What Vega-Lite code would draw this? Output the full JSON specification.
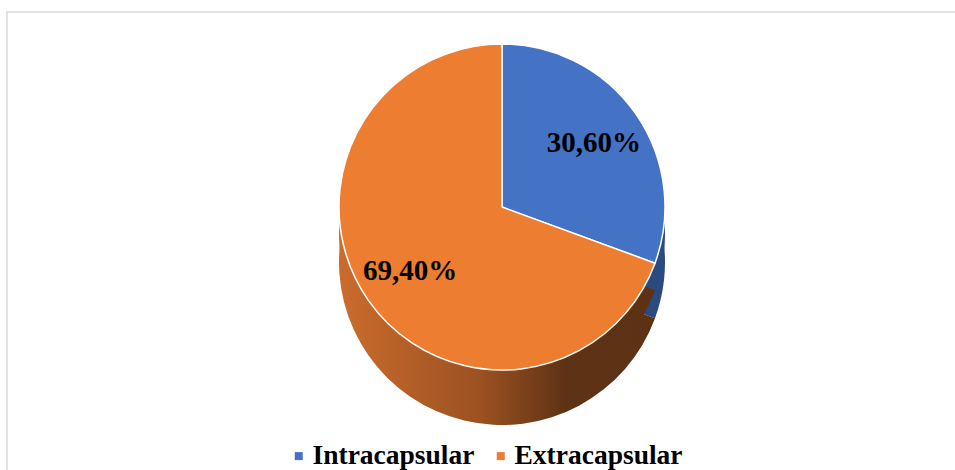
{
  "$schema": "https://vega.github.io/schema/vega-lite/v6.json",
  "autosize": {"type": "none"},
  "width": 990,
  "height": 460,
  "padding": {"left": 7, "top": 12, "right": 0, "bottom": 0},
  "background": "white",
  "view": {"stroke": "#d9d9d9", "strokeWidth": 1.5},
  "config": {
    "text": {"font": "Liberation Serif"}
  },
  "data": {
    "values": [
      {"category": "Intracapsular", "value": 30.6, "label": "30,60%"},
      {"category": "Extracapsular", "value": 69.4, "label": "69,40%"}
    ]
  },
  "encoding": {
    "theta": {"field": "value", "type": "quantitative", "stack": true},
    "order": {"field": "category", "sort": "descending"}
  },
  "layer": [
    {
      "mark": {"type": "arc", "radius": 163, "yOffset": 20},
      "encoding": {
        "fill": {
          "condition": {
            "test": "datum.category === 'Extracapsular'",
            "value": {
              "gradient": "linear",
              "x1": 0, "y1": 0, "x2": 1, "y2": 0,
              "stops": [
                {"offset": 0, "color": "#cb6c2d"},
                {"offset": 0.45, "color": "#9b5121"},
                {"offset": 0.72, "color": "#5e3215"},
                {"offset": 1, "color": "#5c3114"}
              ]
            }
          },
          "value": "#2b4a80"
        }
      }
    },
    {
      "mark": {"type": "arc", "radius": 163, "yOffset": -8},
      "encoding": {
        "fill": {
          "condition": {
            "test": "datum.category === 'Extracapsular'",
            "value": {
              "gradient": "linear",
              "x1": 0, "y1": 0, "x2": 1, "y2": 0,
              "stops": [
                {"offset": 0, "color": "#cb6c2d"},
                {"offset": 0.45, "color": "#9b5121"},
                {"offset": 0.72, "color": "#5e3215"},
                {"offset": 1, "color": "#5c3114"}
              ]
            }
          },
          "value": "#2b4a80"
        }
      }
    },
    {
      "mark": {"type": "arc", "radius": 163, "yOffset": -35, "stroke": "white", "strokeWidth": 1.5},
      "encoding": {
        "color": {
          "field": "category",
          "type": "nominal",
          "scale": {"domain": ["Intracapsular", "Extracapsular"], "range": ["#4472c4", "#ed7d31"]},
          "legend": {
            "orient": "none",
            "legendX": 278,
            "legendY": 430,
            "direction": "horizontal",
            "title": null,
            "symbolType": "square",
            "symbolSize": 64,
            "symbolStrokeWidth": 0,
            "labelFont": "Liberation Serif",
            "labelFontWeight": "bold",
            "labelFontSize": 27.5,
            "labelColor": "black",
            "labelOffset": 0,
            "columnPadding": 12,
            "labelLimit": 300
          }
        }
      }
    },
    {
      "mark": {"type": "text", "radius": 112, "yOffset": -35, "fontSize": 29, "fontWeight": "bold", "color": "black"},
      "encoding": {
        "text": {"field": "label", "type": "nominal"}
      }
    }
  ]
}
